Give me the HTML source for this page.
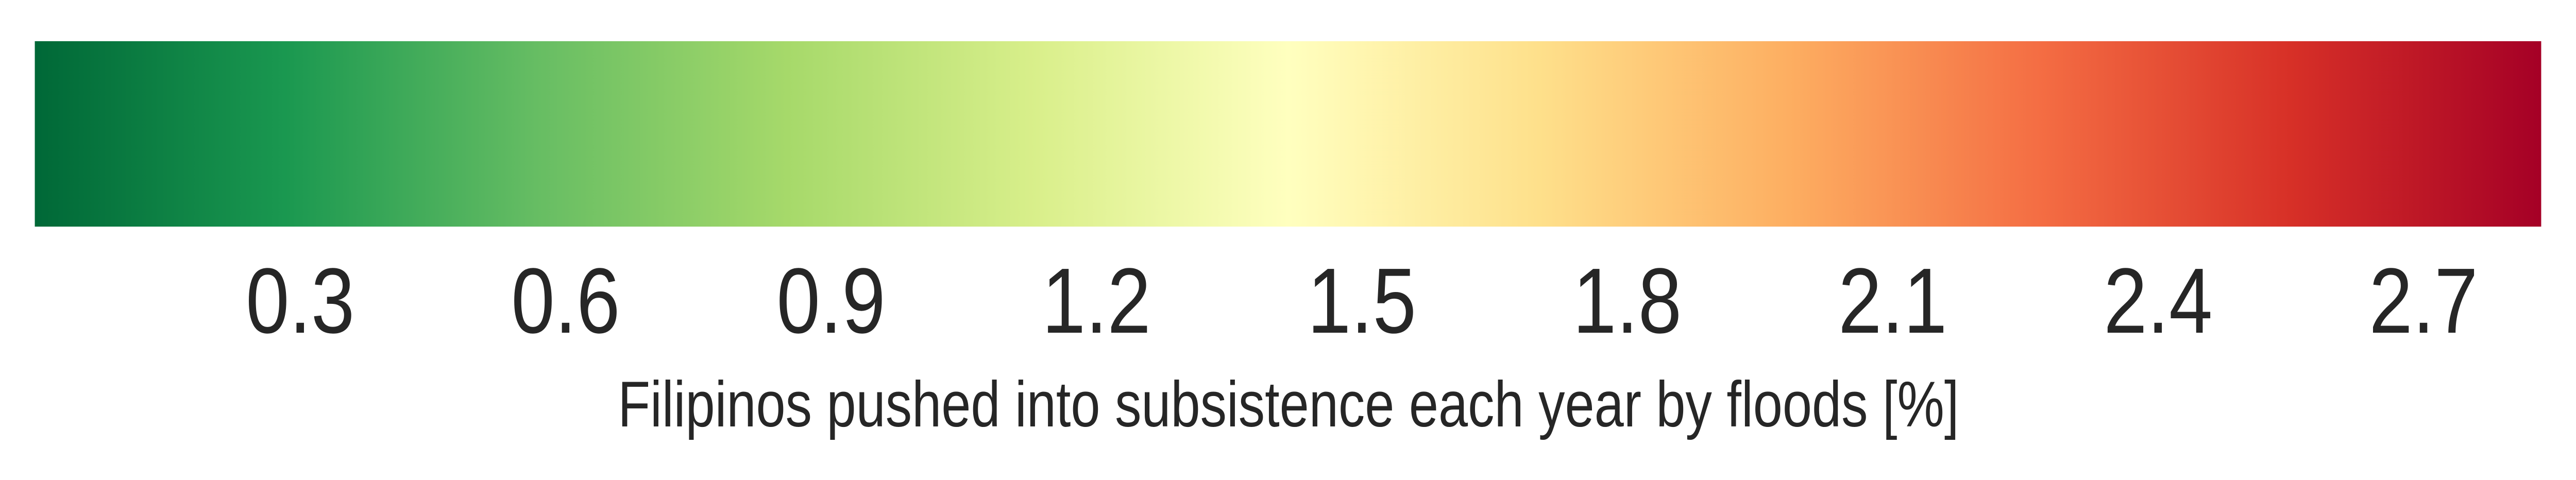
<!DOCTYPE html>
<html><head><meta charset="utf-8"><style>
html,body{margin:0;padding:0;background:#fff;width:100%;height:100%;overflow:hidden;}
svg{display:block;width:100vw;height:100vh;}
text{font-family:"Liberation Sans",Arial,sans-serif;fill:#262626;}
</style></head>
<body>
<svg id="chart" viewBox="0 0 5920 932" preserveAspectRatio="none">
<defs>
<linearGradient id="cmap" x1="0" y1="0" x2="1" y2="0">
<stop offset="0" stop-color="#006837"/>
<stop offset="0.1" stop-color="#1a9850"/>
<stop offset="0.2" stop-color="#66bd63"/>
<stop offset="0.3" stop-color="#a6d96a"/>
<stop offset="0.4" stop-color="#d9ef8b"/>
<stop offset="0.5" stop-color="#ffffbf"/>
<stop offset="0.6" stop-color="#fee08b"/>
<stop offset="0.7" stop-color="#fdae61"/>
<stop offset="0.8" stop-color="#f46d43"/>
<stop offset="0.9" stop-color="#d73027"/>
<stop offset="1" stop-color="#a50026"/>
</linearGradient>
</defs>
<rect x="80" y="80" width="5760" height="360" fill="url(#cmap)"/>
<g id="ticks"></g>
<text x="2961" y="828" font-size="125" text-anchor="middle" textLength="3082" lengthAdjust="spacingAndGlyphs">Filipinos pushed into subsistence each year by floods [%]</text>
</svg>
<script>
const tickValues = [0.3, 0.6, 0.9, 1.2, 1.5, 1.8, 2.1, 2.4, 2.7];
const tickLabels = ["0.3", "0.6", "0.9", "1.2", "1.5", "1.8", "2.1", "2.4", "2.7"];
const domainMin = 0;
const domainMax = 2.833;
function xScale(v){ return 80 + (v - domainMin) / (domainMax - domainMin) * 5760; }
const g = document.getElementById('ticks');
tickValues.forEach((v, i) => {
  const t = document.createElementNS('http://www.w3.org/2000/svg', 'text');
  t.setAttribute('x', xScale(v));
  t.setAttribute('y', 646);
  t.setAttribute('font-size', 180);
  t.setAttribute('text-anchor', 'middle');
  
  
  t.textContent = tickLabels[i];
  g.appendChild(t);
});
</script>
</body></html>
